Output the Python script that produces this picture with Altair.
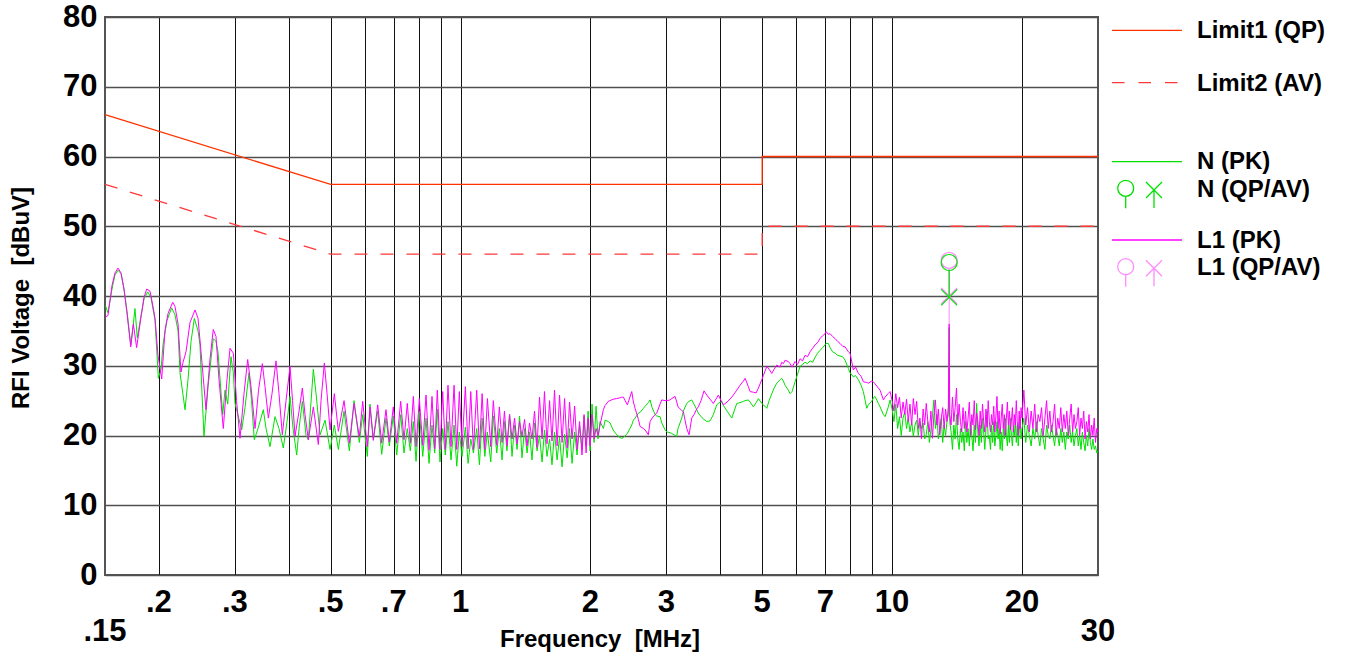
import altair as alt
import pandas as pd

# ---------------- data ----------------
LOW_F_L1 = [0.1504,0.1524,0.1557,0.1582,0.1608,0.1634,0.1660,0.1687,0.1721,0.1745,
            0.1776,0.1818,0.1847,0.1874,0.1907,0.1938,0.1959,0.1990,0.2030,0.2066,
            0.2100,0.2153,0.2179,0.2215,0.2250,0.2275,0.2311,0.2361,0.2425,0.2464,
            0.2504,0.2571,0.2627,0.2673,0.2712,0.2756,0.2820,0.2876,0.2923,0.2975,
            0.3026,0.3083,0.3149,0.3212,0.3269,0.3340,0.3403,0.3473,0.3523,0.3586,
            0.3657,0.3736,0.3796,0.3864,0.3941,0.4026,0.4080,0.4135,0.4224,0.4299,
            0.4361,0.4439,0.4559,0.4682,0.4750,0.4835,0.4905,0.4984]
LOW_L1 = [37.0,37.2,41.5,43.3,44.0,43.3,41.0,37.5,32.7,36.0,
          32.6,37.0,39.8,41.0,40.7,38.5,36.8,31.5,28.1,35.1,
          37.5,39.1,38.5,36.0,29.1,30.5,32.0,36.2,38.0,36.8,
          32.0,23.7,31.0,35.2,34.2,28.0,21.0,28.0,32.5,31.8,
          25.0,19.6,26.0,30.9,27.0,21.0,26.5,30.3,27.0,22.5,
          26.0,30.7,26.0,20.1,25.0,29.9,25.0,19.9,23.5,26.8,
          23.0,19.4,24.1,18.7,25.0,30.4,26.0,20.8]

LOW_F_N = [0.1504,0.1524,0.1557,0.1582,0.1608,0.1634,0.1660,0.1687,0.1721,0.1745,
           0.1760,0.1782,0.1818,0.1847,0.1884,0.1917,0.1959,0.1994,0.2023,0.2044,
           0.2088,0.2141,0.2179,0.2215,0.2238,0.2299,0.2336,0.2374,0.2416,0.2464,
           0.2490,0.2517,0.2544,0.2599,0.2673,0.2712,0.2741,0.2811,0.2846,0.2887,
           0.2938,0.2975,0.3002,0.3111,0.3166,0.3234,0.3278,0.3327,0.3394,0.3491,
           0.3542,0.3618,0.3716,0.3796,0.3884,0.3962,0.4026,0.4091,0.4172,0.4224,
           0.4299,0.4385,0.4439,0.4559,0.4625,0.4725,0.4853,0.4984]
LOW_N = [38.6,37.6,41.0,43.0,43.7,43.2,41.0,37.8,33.0,36.0,
         38.2,34.0,37.2,39.6,40.6,39.8,36.5,28.2,29.5,33.0,
         36.5,38.3,37.3,35.0,29.0,23.7,28.0,33.5,36.8,35.0,
         33.0,26.0,19.9,27.0,33.9,33.5,32.0,23.0,26.5,24.5,
         31.3,29.0,24.6,20.8,24.0,29.0,25.0,19.4,21.0,23.7,
         21.0,18.4,22.7,21.0,18.2,22.0,25.6,21.0,17.2,21.0,
         24.9,20.0,19.4,29.5,26.0,20.1,22.2,18.0]

# 0.5 - 10 MHz, shared sweep points
HF_F = [0.5100,0.5210,0.5371,0.5525,0.5665,0.5826,0.5933,0.6081,0.6169,0.6278,
        0.6428,0.6566,0.6718,0.6838,0.6985,0.7113,0.7266,0.7396,0.7527,0.7648,
        0.7773,0.7886,0.8026,0.8173,0.8318,0.8452,0.8587,0.8712,0.8834,0.8962,
        0.9092,0.9219,0.9352,0.9504,0.9659,0.9799,0.9936,1.008,1.026,1.041,
        1.056,1.071,1.090,1.106,1.122,1.138,1.154,1.175,1.191,1.213,
        1.230,1.248,1.264,1.281,1.299,1.316,1.334,1.352,1.370,1.388,
        1.407,1.426,1.445,1.464,1.484,1.504,1.524,1.545,1.565,1.586,
        1.608,1.629,1.651,1.674,1.696,1.719,1.742,1.766,1.789,1.813,
        1.838,1.862,1.887,1.912,1.933,1.954,1.975,1.996,2.017,2.039,
        2.061,2.083,2.105,2.143,2.162,2.200,2.221,2.256,2.301,2.342,
        2.364,2.384,2.435,2.493,2.515,2.538,2.583,2.606,2.653,2.677,
        2.724,2.749,2.779,2.823,2.849,2.899,2.926,2.978,3.010,3.058,
        3.086,3.141,3.170,3.191,3.255,3.283,3.343,3.385,3.433,3.476,
        3.526,3.556,3.608,3.666,3.720,3.786,3.853,3.924,3.958,4.030,
        4.065,4.146,4.251,4.366,4.443,4.523,4.564,4.645,4.687,4.771,
        4.840,4.900,4.989,5.032,5.124,5.188,5.263,5.328,5.405,5.501,
        5.550,5.598,5.649,5.749,5.802,5.864,5.959,6.039,6.120,6.202,
        6.285,6.370,6.455,6.542,6.630,6.718,6.808,6.900,6.993,7.030,
        7.117,7.182,7.278,7.376,7.475,7.575,7.678,7.781,7.919,7.991,
        8.133,8.229,8.354,8.475,8.578,8.735,8.810,8.971,9.048,9.131,
        9.293,9.378,9.546,9.633,9.789,9.894]
HF_L1 = [26.0,20.6,25.0,18.9,24.6,19.8,24.9,18.4,24.1,19.3,
         24.4,18.9,23.7,19.1,24.1,18.9,24.9,19.4,24.6,18.9,
         25.6,18.4,25.3,18.6,25.8,17.9,25.6,18.1,26.5,18.0,
         26.3,18.0,27.2,18.4,27.2,18.0,26.3,18.4,27.0,18.1,
         26.3,18.0,26.5,18.1,26.0,18.0,25.3,18.4,25.0,18.6,
         24.1,19.0,23.5,18.5,23.0,19.5,22.5,18.8,22.0,19.9,
         22.3,18.5,21.8,19.5,23.5,18.3,25.5,19.5,26.3,18.8,
         25.0,19.2,26.5,18.5,25.8,19.0,25.3,18.2,24.8,19.5,
         24.2,18.0,22.0,17.2,23.0,17.5,22.5,18.5,23.0,19.5,
         21.0,20.0,21.5,23.7,24.3,24.9,25.0,25.2,25.3,25.4,
         25.5,25.5,24.4,26.3,24.8,23.9,22.3,21.3,21.0,20.8,
         20.1,22.0,22.5,23.0,23.2,24.5,25.1,25.0,25.0,25.1,
         25.3,25.6,24.8,24.1,23.6,23.4,21.0,20.1,22.5,23.0,
         23.8,24.1,25.0,26.4,25.8,25.2,24.6,25.4,25.8,24.8,
         24.4,24.8,25.5,26.5,27.2,27.8,28.2,27.0,26.3,26.2,
         26.1,26.8,28.0,28.6,29.9,29.5,28.9,29.5,30.1,29.8,
         30.5,30.3,30.8,30.6,30.3,29.8,30.6,30.2,31.0,30.7,
         31.5,31.3,32.0,32.5,33.0,33.3,33.9,34.3,34.6,34.9,
         34.5,34.6,34.2,33.9,33.5,33.2,32.8,32.7,32.0,31.8,
         29.4,29.8,28.9,28.5,27.7,27.6,27.5,27.8,27.7,27.4,
         26.8,26.5,25.1,25.5,26.0,26.3]
HF_N = [21.5,18.0,23.5,17.8,25.0,19.0,23.0,17.0,24.5,19.5,
        23.5,17.3,22.5,18.5,22.8,17.2,23.0,17.5,21.0,17.8,
        22.0,16.3,23.5,17.0,22.5,16.0,21.5,17.5,23.8,16.2,
        21.0,17.2,22.0,16.5,21.5,15.6,20.5,17.0,21.2,16.0,
        19.5,17.5,21.0,15.8,22.5,17.0,20.5,16.2,22.8,17.5,
        21.0,16.5,22.0,17.8,23.0,17.0,21.5,18.0,22.8,16.8,
        21.0,17.5,20.5,16.5,21.8,17.8,20.0,16.2,20.8,17.0,
        19.5,15.8,20.5,16.5,19.8,15.5,20.2,16.8,21.0,16.0,
        20.5,17.2,21.5,18.0,22.8,18.5,23.5,17.8,24.5,19.0,
        24.2,19.5,22.0,21.0,22.2,22.0,21.8,20.8,20.1,19.7,
        19.6,19.7,20.3,21.5,22.2,22.5,23.2,23.3,23.9,24.2,
        24.7,25.1,24.0,23.0,22.8,22.7,21.8,20.8,20.5,20.4,
        20.3,20.0,19.9,21.0,22.5,23.5,24.6,24.9,25.1,24.5,
        23.7,23.2,22.7,22.3,22.0,22.1,23.0,24.4,24.6,24.9,
        24.3,23.5,22.5,24.6,24.7,24.9,25.0,25.1,24.8,24.1,
        24.7,25.3,24.6,24.4,23.9,25.0,26.0,26.8,27.5,28.0,
        28.2,27.8,27.2,26.5,26.0,26.3,27.7,28.8,29.9,30.2,
        30.5,30.3,30.7,30.5,31.2,31.8,32.2,32.6,33.0,33.2,
        33.2,32.6,32.0,31.8,31.5,31.4,31.3,30.8,29.6,29.0,
        28.4,28.6,28.0,27.2,26.3,23.9,24.4,24.9,25.4,25.6,
        24.6,24.1,23.0,22.7,24.0,25.1]

# 10 - 30 MHz, shared sweep points
NOISE_F = [10.0,10.1,10.2,10.3,10.4,10.5,10.6,10.7,10.8,10.9,
           11.0,11.1,11.2,11.3,11.4,11.5,11.6,11.7,11.8,11.9,
           12.0,12.1,12.2,12.3,12.4,12.5,12.6,12.7,12.8,12.9,
           13.0,13.1,13.2,13.3,13.4,13.5,13.56,
           13.6,13.7,13.8,13.9,14.0,14.1,14.2,14.3,14.4,14.5,14.6,14.7,14.8,14.9,
           15.0,15.1,15.2,15.3,15.4,15.5,15.6,15.7,15.8,15.9,
           16.0,16.1,16.2,16.3,16.4,16.5,16.6,16.7,16.8,16.9,
           17.0,17.1,17.2,17.3,17.4,17.5,17.6,17.7,17.8,17.9,
           18.0,18.1,18.2,18.3,18.4,18.5,18.6,18.7,18.8,18.9,
           19.0,19.1,19.2,19.3,19.4,19.5,19.6,19.7,19.8,19.9,
           20.0,
           20.2,20.4,20.6,20.8,21.0,21.2,21.4,21.6,21.8,22.0,
           22.2,22.4,22.6,22.8,23.0,23.2,23.4,23.6,23.8,24.0,
           24.2,24.4,24.6,24.8,25.0,25.2,25.4,25.6,25.8,26.0,
           26.2,26.4,26.6,26.8,27.0,27.2,27.4,27.6,27.8,28.0,
           28.2,28.4,28.6,28.8,29.0,29.2,29.4,29.6,29.8,30.0]
NOISE_L1 = [25.0,23.5,26.0,24.0,25.5,22.5,24.8,23.0,25.2,22.0,
            24.5,21.5,25.3,23.0,24.9,21.0,22.5,19.5,23.8,21.5,
            24.6,22.0,20.5,23.5,19.6,22.8,25.1,21.5,23.8,20.1,
            22.5,24.0,21.0,23.8,22.0,24.0,36.0,
            23.0,21.5,25.5,22.0,24.0,26.8,21.5,24.5,22.0,20.5,24.0,21.0,23.5,20.5,
            22.5,24.8,20.0,23.0,21.5,25.0,20.8,23.2,22.0,20.0,
            23.5,21.0,24.5,22.0,20.5,23.8,21.2,25.0,22.0,20.5,
            23.0,21.5,24.2,20.5,22.8,25.6,21.0,23.5,20.2,22.5,
            24.5,21.0,23.0,20.0,22.5,24.8,21.5,23.5,20.8,22.0,
            24.0,20.5,23.0,21.5,25.0,22.0,20.0,23.5,21.0,24.0,
            22.5,
            26.5,21.5,24.0,20.5,23.5,21.0,24.5,20.5,23.0,22.0,
            24.0,20.0,22.5,25.0,21.0,23.5,20.5,22.0,24.5,20.0,
            22.5,21.0,24.0,20.5,23.0,21.0,23.5,20.0,22.5,24.5,
            20.5,23.0,21.0,22.0,24.0,20.0,22.5,21.0,23.5,19.5,
            22.0,20.5,23.0,19.5,21.5,20.0,22.5,19.0,21.0,20.5]
NOISE_N = [23.8,22.0,24.5,21.0,22.7,20.0,22.5,23.4,21.0,22.5,
           20.5,22.0,19.9,21.5,22.2,20.0,22.0,21.0,21.8,19.5,
           20.1,22.0,19.0,20.8,22.8,25.1,21.0,23.0,19.5,21.0,
           22.5,19.0,21.5,20.0,22.0,23.0,35.5,
           22.0,20.5,18.0,21.5,19.5,23.0,19.5,18.0,21.0,19.0,20.5,17.8,22.0,19.0,
           21.0,18.5,22.0,20.0,17.8,21.5,19.0,24.6,20.5,18.5,
           21.5,19.0,22.5,20.5,18.0,21.0,23.5,19.5,20.0,18.0,
           21.5,19.0,22.0,18.5,20.0,22.0,19.5,21.0,18.0,20.5,
           17.8,21.0,19.5,22.5,20.0,18.5,21.5,19.0,22.5,20.0,
           18.5,21.0,20.0,22.0,19.0,21.5,18.5,20.5,22.5,19.5,
           21.0,
           22.5,19.0,21.5,20.0,18.5,21.0,19.5,22.0,20.0,18.5,
           21.0,19.5,18.0,21.5,20.0,19.5,21.5,20.0,18.5,21.0,
           20.0,18.5,21.0,19.0,20.5,18.0,20.5,19.5,21.5,19.0,
           20.5,18.5,20.0,21.0,18.5,20.0,18.0,20.5,19.0,17.8,
           20.0,18.5,21.0,19.0,18.0,19.5,18.0,18.5,17.5,17.8]

LIMIT_F = [0.15, 0.5, 5, 5, 30]
LIMIT_QP = [66, 56, 56, 60, 60]
LIMIT_AV = [56, 46, 46, 50, 50]

MARKER_F = [13.56]
N_QP = [44.8]
N_AV = [39.8]
L1_QP = [45.1]
L1_AV = [40.0]
STEM_BOTTOM = [36.0]

GRID_F = [0.2, 0.3, 0.4, 0.5, 0.6, 0.7, 0.8, 0.9, 1, 2, 3, 4, 5, 6, 7, 8, 9, 10, 20]
TICK_F = [0.2, 0.3, 0.5, 0.7, 1, 2, 3, 5, 7, 10, 20]
TICK_TEXT = [".2", ".3", ".5", ".7", "1", "2", "3", "5", "7", "10", "20"]
END_F = [0.15, 30]
END_TEXT = [".15", "30"]
Y_TICKS = [0, 10, 20, 30, 40, 50, 60, 70, 80]

LEGEND_LABELS = ["Limit1 (QP)", "Limit2 (AV)", "N (PK)", "N (QP/AV)", "L1 (PK)", "L1 (QP/AV)"]
X_TITLE = "Frequency\u00a0 [MHz]"
Y_TITLE = "RFI Voltage\u00a0 [dBuV]"

# ---------------- styling ----------------
FONT = "Liberation Sans, Arial, Helvetica, sans-serif"
C_QP = "#FF3300"
C_AV = "#FF3838"
C_N = "#00E000"
C_L1 = "#FF00FF"
C_L1M = "#FF8CFF"
CIRCLE = "M-1,0A1,1,0,1,1,1,0A1,1,0,1,1,-1,0M0,1L0,4.4"
XSHAPE = "M-1,-1L1,1M1,-1L-1,1"
CIRCLE_LEG = "M-1,0A1,1,0,1,1,1,0A1,1,0,1,1,-1,0M0,1L0,2.5"
XSHAPE_LEG = "M-1,-1L1,1M1,-1L-1,1M0,0L0,2.25"

xs = alt.Scale(type="log", domain=[0.15, 30])
ys = alt.Scale(domain=[0, 80])
x_axis = alt.Axis(values=GRID_F, grid=True, labels=False, ticks=False, domain=False,
                  title=None, gridColor="#111111", gridWidth=1, gridOpacity=1)
y_axis = alt.Axis(values=Y_TICKS, grid=True, ticks=False, domain=False, title=None,
                  gridColor="#505050", gridWidth=1.3, gridOpacity=1,
                  labelFont=FONT, labelFontSize=31, labelFontWeight="bold",
                  labelColor="#000000", labelPadding=8)


def X(f):
    return alt.X(f"{f}:Q", scale=xs, axis=x_axis)


def Y(f):
    return alt.Y(f"{f}:Q", scale=ys, axis=y_axis)


one = pd.DataFrame({"k": [0]})

df_lim = pd.DataFrame({"freq": LIMIT_F, "qp": LIMIT_QP, "av": LIMIT_AV, "i": range(len(LIMIT_F))})
df_n = pd.DataFrame({"freq": LOW_F_N + HF_F + NOISE_F, "level": LOW_N + HF_N + NOISE_N})
df_l1 = pd.DataFrame({"freq": LOW_F_L1 + HF_F + NOISE_F, "level": LOW_L1 + HF_L1 + NOISE_L1})
df_m = pd.DataFrame({"freq": MARKER_F, "nqp": N_QP, "nav": N_AV, "lqp": L1_QP,
                     "lav": L1_AV, "bot": STEM_BOTTOM})
df_t = pd.DataFrame({"freq": TICK_F, "t": TICK_TEXT})
df_e = pd.DataFrame({"freq": END_F, "t": END_TEXT})

layers = []
layers.append(alt.Chart(df_lim).mark_line(color=C_QP, strokeWidth=1.3)
              .encode(x=X("freq"), y=Y("qp"), order="i:Q"))
layers.append(alt.Chart(df_lim).mark_line(color=C_AV, strokeWidth=1.3, strokeDash=[13, 13])
              .encode(x=X("freq"), y=Y("av"), order="i:Q"))
layers.append(alt.Chart(df_n).mark_line(color=C_N, strokeWidth=1)
              .encode(x=X("freq"), y=Y("level")))
layers.append(alt.Chart(df_l1).mark_line(color=C_L1, strokeWidth=1)
              .encode(x=X("freq"), y=Y("level")))
# marker stems and markers
layers.append(alt.Chart(df_m).mark_rule(color=C_L1M, strokeWidth=1)
              .encode(x=X("freq"), y=Y("lav"), y2="bot:Q"))
layers.append(alt.Chart(df_m).mark_point(shape=CIRCLE, filled=False, size=256, opacity=1,
                                          color=C_L1M, strokeWidth=1.3)
              .encode(x=X("freq"), y=Y("lqp")))
layers.append(alt.Chart(df_m).mark_point(shape=XSHAPE, filled=False, size=256, opacity=1,
                                          color=C_L1M, strokeWidth=1.3)
              .encode(x=X("freq"), y=Y("lav")))
layers.append(alt.Chart(df_m).mark_point(shape=CIRCLE, filled=False, size=256, opacity=1,
                                          color=C_N, strokeWidth=1.2)
              .encode(x=X("freq"), y=Y("nqp")))
layers.append(alt.Chart(df_m).mark_point(shape=XSHAPE, filled=False, size=256, opacity=1,
                                          color=C_N, strokeWidth=1.2)
              .encode(x=X("freq"), y=Y("nav")))
# x tick labels
layers.append(alt.Chart(df_t).mark_text(font=FONT, fontSize=31, fontWeight="bold",
                                         align="center", baseline="middle", color="#000")
              .encode(x=X("freq"), y=alt.value(586), text="t:N"))
layers.append(alt.Chart(df_e).mark_text(font=FONT, fontSize=31, fontWeight="bold",
                                         align="center", baseline="middle", color="#000")
              .encode(x=X("freq"), y=alt.value(615), text="t:N"))
# axis titles
layers.append(alt.Chart(one).mark_text(text=X_TITLE, font=FONT, fontSize=24, fontWeight="bold",
                                        align="center", baseline="middle", color="#000")
              .encode(x=alt.value(495), y=alt.value(623)))
layers.append(alt.Chart(one).mark_text(text=Y_TITLE, font=FONT, fontSize=24, fontWeight="bold",
                                        angle=270, align="center", baseline="middle", color="#000")
              .encode(x=alt.value(-83), y=alt.value(281)))

# legend
LX0, LX1, LTX = 1007, 1077, 1092


def leg_line(y, color, dash=None):
    kw = dict(color=color, strokeWidth=1.3)
    if dash:
        kw["strokeDash"] = dash
    return alt.Chart(one).mark_rule(**kw).encode(
        x=alt.value(LX0), x2=alt.value(LX1), y=alt.value(y))


def leg_sym(x, y, shape, color):
    return alt.Chart(one).mark_point(shape=shape, filled=False, size=256, opacity=1,
                                     color=color, strokeWidth=1.3).encode(
        x=alt.value(x), y=alt.value(y))


def leg_text(y, label):
    return alt.Chart(one).mark_text(text=label, font=FONT, fontSize=24, fontWeight="bold",
                                    align="left", baseline="middle", color="#000").encode(
        x=alt.value(LTX), y=alt.value(y))


layers += [
    leg_line(13.3, C_QP), leg_text(14, LEGEND_LABELS[0]),
    leg_line(65.7, C_AV, [12.5, 14]), leg_text(67, LEGEND_LABELS[1]),
    leg_line(144.7, C_N), leg_text(145, LEGEND_LABELS[2]),
    leg_sym(1020.7, 171.3, CIRCLE_LEG, C_N), leg_sym(1049, 173, XSHAPE_LEG, C_N),
    leg_text(172.5, LEGEND_LABELS[3]),
    leg_line(223, C_L1), leg_text(223.5, LEGEND_LABELS[4]),
    leg_sym(1020.7, 249.7, CIRCLE_LEG, C_L1M), leg_sym(1049, 251.3, XSHAPE_LEG, C_L1M),
    leg_text(251, LEGEND_LABELS[5]),
]

chart = (alt.layer(*layers)
         .properties(width=993, height=558,
                     padding={"left": 105, "top": 17, "right": 248, "bottom": 83},
                     autosize=alt.AutoSizeParams(type="none"),
                     background="white")
         .configure_view(stroke="#555555", strokeWidth=2))

chart.save("out.html", embed_options={"renderer": "svg", "actions": False})
